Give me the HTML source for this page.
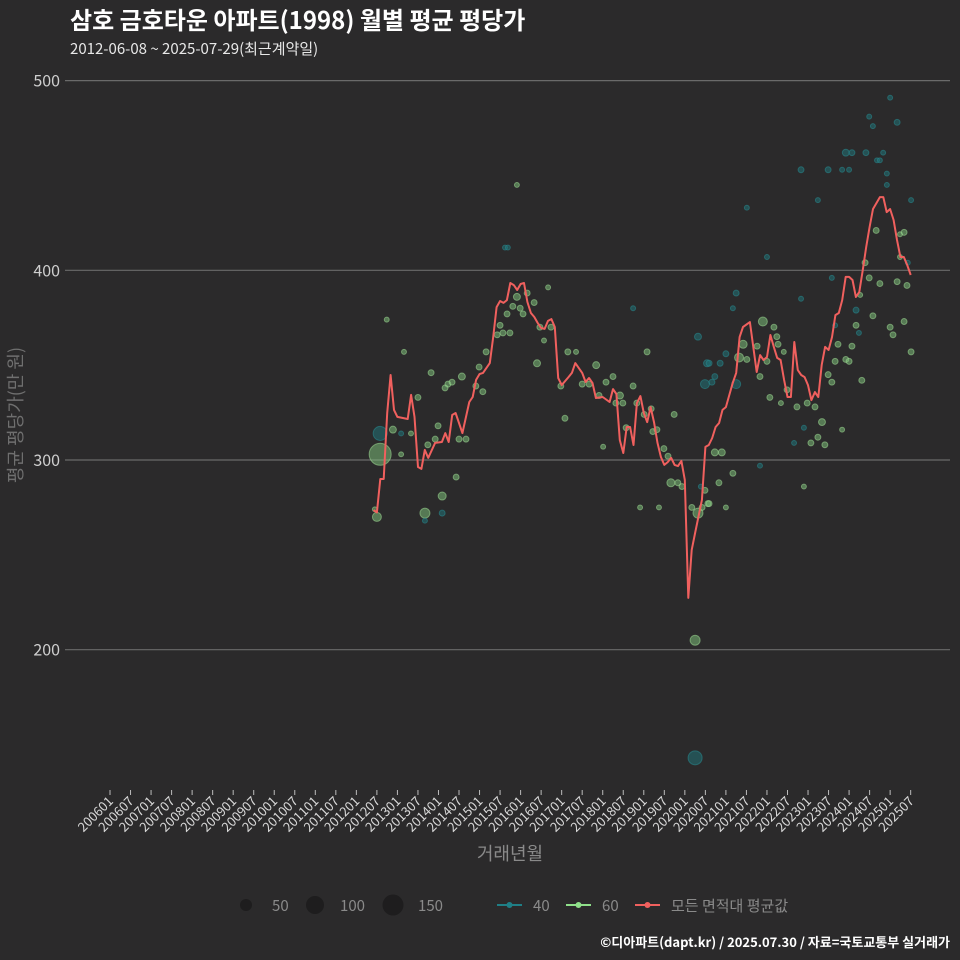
<!DOCTYPE html>
<html><head><meta charset="utf-8">
<style>
html,body{margin:0;padding:0;background:#2b2a2b;}
svg{display:block;}
text{font-family:"Noto Sans CJK KR","Liberation Sans",sans-serif;}
</style></head>
<body>
<svg id="chart" width="960" height="960" viewBox="0 0 960 960">
<rect x="0" y="0" width="960" height="960" fill="#2b2a2b"/>
<text x="70" y="29" font-size="24" font-weight="bold" fill="#ffffff">삼호 금호타운 아파트(1998) 월별 평균 평당가</text>
<text x="70" y="54" font-size="15" fill="#e8e8e8">2012-06-08 ~ 2025-07-29(최근계약일)</text>
<g id="grid"></g>
<g id="xaxis"></g>
<g id="points"></g>
<path id="avgline" fill="none" stroke="#f0605e" stroke-width="2" stroke-linejoin="round"/>
<text x="510" y="860" font-size="18" fill="#8a8a8a" text-anchor="middle">거래년월</text>
<text transform="translate(22,415) rotate(-90)" font-size="18" fill="#6f6f6f" text-anchor="middle">평균 평당가(만 원)</text>
<g>
  <circle cx="246" cy="905" r="6" fill="#1e1d1e"/>
  <text x="272" y="911" font-size="15" fill="#8a8a8a">50</text>
  <circle cx="315" cy="905" r="9" fill="#1e1d1e"/>
  <text x="340" y="911" font-size="15" fill="#8a8a8a">100</text>
  <circle cx="393" cy="905" r="10.5" fill="#1e1d1e"/>
  <text x="418" y="911" font-size="15" fill="#8a8a8a">150</text>
  <line x1="497" y1="905" x2="522" y2="905" stroke="#1f7f86" stroke-width="2"/>
  <circle cx="509.5" cy="905" r="3" fill="#1f7f86"/>
  <text x="533" y="911" font-size="15" fill="#8a8a8a">40</text>
  <line x1="566" y1="905" x2="591" y2="905" stroke="#8fe08a" stroke-width="2"/>
  <circle cx="578.5" cy="905" r="3" fill="#8fe08a"/>
  <text x="602" y="911" font-size="15" fill="#8a8a8a">60</text>
  <line x1="635" y1="905" x2="660" y2="905" stroke="#f0605e" stroke-width="2"/>
  <circle cx="647.5" cy="905" r="3" fill="#f0605e"/>
  <text x="671" y="911" font-size="15" fill="#8a8a8a">모든 면적대 평균값</text>
</g>
<text x="950" y="947" font-size="13" font-weight="bold" fill="#ffffff" text-anchor="end">©디아파트(dapt.kr) / 2025.07.30 / 자료=국토교통부 실거래가</text>
</svg>
<script>
const yTicks = [200, 300, 400, 500];
const xTickLabels = ["200601","200607","200701","200707","200801","200807","200901","200907","201001","201007","201101","201107","201201","201207","201301","201307","201401","201407","201501","201507","201601","201607","201701","201707","201801","201807","201901","201907","202001","202007","202101","202107","202201","202207","202301","202307","202401","202407","202501","202507"];
const lineDates = ["2012-06","2012-07","2012-08","2012-09","2012-10","2012-11","2012-12","2013-01","2013-04","2013-05","2013-06","2013-07","2013-08","2013-09","2013-10","2013-12","2014-02","2014-03","2014-04","2014-05","2014-06","2014-08","2014-10","2014-11","2014-12","2015-01","2015-02","2015-04","2015-05","2015-06","2015-07","2015-08","2015-09","2015-10","2015-11","2015-12","2016-01","2016-02","2016-03","2016-04","2016-05","2016-06","2016-07","2016-08","2016-09","2016-10","2016-11","2016-12","2017-01","2017-03","2017-04","2017-05","2017-07","2017-08","2017-09","2017-10","2017-11","2018-01","2018-03","2018-04","2018-05","2018-06","2018-07","2018-08","2018-09","2018-10","2018-11","2018-12","2019-01","2019-02","2019-03","2019-04","2019-05","2019-06","2019-07","2019-08","2019-09","2019-10","2019-11","2019-12","2020-01","2020-02","2020-03","2020-04","2020-06","2020-07","2020-08","2020-09","2020-10","2020-11","2020-12","2021-01","2021-03","2021-04","2021-05","2021-06","2021-08","2021-10","2021-11","2021-12","2022-01","2022-02","2022-03","2022-04","2022-05","2022-06","2022-07","2022-08","2022-09","2022-10","2022-11","2022-12","2023-01","2023-02","2023-03","2023-04","2023-05","2023-06","2023-07","2023-08","2023-09","2023-10","2023-11","2023-12","2024-01","2024-02","2024-03","2024-04","2024-05","2024-06","2024-07","2024-08","2024-09","2024-10","2024-11","2024-12","2025-01","2025-02","2025-03","2025-04","2025-05","2025-06","2025-07"];
const lineValues = [273.6,272.4,290,290,324.8,344.8,326.4,322.7,321.6,334.3,322.7,296.3,295.3,305.3,301.1,309,309.5,314.2,309.5,323.7,324.8,314.2,330.6,333.2,342.2,345.3,345.9,351.1,364.8,380.6,383.8,382.8,384.3,393.3,392.2,389.6,392.8,393.3,383.3,377.5,375.4,372.2,369.6,369.1,373.3,374.3,370.1,343.2,339.5,343.7,345.9,351.1,345.9,341.1,343.2,340.6,332.7,333.2,330.6,337.4,334.8,310.5,303.7,317.4,317.4,307.9,330,333.7,324.8,320,327.9,320,309,301.6,297.4,298.9,301.1,297.4,296.8,299.5,289.5,227.3,252.6,261.5,278.9,306.9,307.9,311.6,317.4,319.5,326.4,327.9,340.6,345.9,364.8,370.1,372.7,346.4,355.3,352.7,354.3,365.9,359.6,353.8,352.7,342.2,333.2,333.2,362.2,347.4,344.8,343.7,339.5,331.6,335.8,333.2,350.1,359.6,358,364.8,376.4,377.5,384.3,396.5,396.5,394.9,385.9,388.6,400.2,412.3,422.8,432.3,435.5,438.6,438.6,430.7,432.3,426.5,416,407,407,402.8,397.5];
const ptDates = [2012.74,2013.16,2013.82,2014.57,2014.23,2014.33,2014.16,2014.91,2015.08,2015.16,2014.99,2013.50,2015.43,2015.50,2015.57,2015.74,2015.67,2015.81,2015.91,2016.06,2015.99,2016.16,2016.33,2016.67,2016.47,2016.57,2016.40,2016.74,2017.15,2017.35,2017.84,2017.50,2017.67,2018.25,2018.08,2017.91,2018.42,2018.49,2018.32,2018.74,2018.83,2018.74,2019.08,2019.01,2019.18,2019.22,2019.32,2017.08,2016.98,2018.57,2012.58,2012.58,2012.89,2013.09,2013.33,2013.09,2013.99,2013.74,2013.92,2014.50,2014.67,2014.43,2014.09,2013.67,2013.67,2014.09,2012.50,2012.45,2018.91,2019.37,2020.32,2020.54,2020.49,2019.74,2018.01,2019.49,2019.59,2019.66,2019.83,2019.93,2020.17,2020.32,2020.42,2020.49,2020.56,2020.25,2020.25,2020.73,2020.90,2021.17,2020.83,2021.83,2022.90,2022.66,2023.07,2023.24,2023.41,2023.34,2023.83,2022.90,2021.00,2020.59,2020.39,2021.51,2023.24,2022.00,2021.25,2021.17,2022.83,2021.90,2022.17,2022.24,2021.42,2021.76,2021.32,2021.51,2022.00,2022.41,2022.27,2021.00,2020.86,2020.59,2020.73,2020.66,2021.25,2021.83,2022.07,2022.34,2022.49,2022.73,2022.98,2023.17,2023.49,2023.58,2023.66,2023.73,2023.92,2024.00,2024.07,2024.17,2024.24,2024.17,2024.31,2024.58,2024.27,2024.39,2024.49,2024.75,2025.17,2025.41,2025.34,2025.00,2025.07,2025.51,2024.66,2025.24,2025.24,2025.34,2025.43,2023.66,2023.58,2024.92,2025.51,2025.00,2024.49,2024.58,2025.17,2023.92,2024.07,2024.41,2024.83,2024.68,2024.75,2022.83,2023.49,2023.83,2024.00,2024.92,2015.62,2015.69,2015.91];
const ptValues = [374,357,346,344,340,341,338,339,336,357,349,333,366,371,367,367,377,381,386,377,380,388,383,391,370,363,351,370,357,357,350,340,340,344,341,334,334,330,330,339,330,380,357,324,327,315,316,322,339,317,303,314,316,314,314,303,318,308,311,311,311,291,281,272,268,272,270,274,275,275,365,351,340,324,307,306,302,288,288,286,275,272,275,284,277,205,143,304,304,293,288,297,317,309,309,312,308,320,316,286,275,277,286,433,437,407,388,380,385,373,370,365,361,360,354,353,352,357,361,356,351,351,344,341,340,344,333,330,337,328,330,328,345,341,352,361,353,352,360,371,367,379,342,376,387,404,396,393,394,392,373,370,366,357,421,407,419,420,404,371,396,445,437,491,481,476,478,462,462,462,462,458,458,453,453,453,453,451,412,412,445];
const ptCounts = [9,9,13,18,13,13,13,13,13,13,13,13,13,13,13,13,13,13,18,13,13,13,13,9,13,9,18,13,13,9,18,13,13,13,13,13,18,13,13,13,13,9,13,13,13,13,13,13,13,13,180,73,18,9,9,9,13,13,13,13,13,13,24,37,9,13,30,9,9,9,18,18,30,13,9,13,13,24,13,13,13,37,13,13,13,37,73,18,18,13,13,9,9,9,13,13,13,18,9,9,9,13,9,9,9,9,13,9,9,30,13,13,24,13,30,13,13,9,13,13,13,13,13,13,30,13,13,9,13,13,13,13,13,13,13,13,13,13,13,13,9,13,13,13,9,13,13,13,13,13,13,13,13,13,13,9,9,13,9,9,9,9,9,9,9,9,13,18,13,13,9,9,9,13,13,9,9,9,9,9,9,9,9];
const ptTypes = ["60","60","60","60","60","60","60","60","60","60","60","60","60","60","60","60","60","60","60","60","60","60","60","60","60","60","60","60","60","60","60","60","60","60","60","60","60","60","60","60","60","40","60","60","60","60","60","60","60","60","60","40","60","40","60","60","60","60","60","60","60","60","60","60","40","40","60","60","60","60","40","40","40","60","60","60","60","60","60","60","60","60","60","60","60","60","40","60","60","60","60","40","40","40","60","60","60","60","60","60","60","60","40","40","40","40","40","40","40","60","60","60","60","60","60","60","60","60","60","40","40","40","40","40","40","60","60","60","60","60","60","60","60","60","60","60","60","60","60","60","40","40","60","60","60","60","60","60","60","60","60","60","60","60","60","60","60","60","40","40","40","40","40","40","40","40","40","40","40","40","40","40","40","40","40","40","40","40","40","40","60","40","40","40"];

const NS = "http://www.w3.org/2000/svg";
function xScale(t){ return 110 + (t - 2006) * 41.06; }
function yScale(v){ return 460 - (v - 300) * 1.897; }
function dateToT(s){ const p = s.split("-"); return +p[0] + (+p[1] - 1) / 12; }
function mk(tag, attrs, parent){ const e = document.createElementNS(NS, tag); for (const k in attrs) e.setAttribute(k, attrs[k]); parent.appendChild(e); return e; }

const grid = document.getElementById("grid");
yTicks.forEach(v => {
  const y = yScale(v);
  const ln = mk("line", {x1: 65, x2: 950, y1: y, y2: y, stroke: "#6a6a6a", "stroke-width": 1.2}, grid);
  
  
  const tx = mk("text", {x: 60, y: y + 6, "font-size": 16, fill: "#cfcfcf", "text-anchor": "end"}, grid);
  tx.textContent = v;
  
  
});

const xa = document.getElementById("xaxis");
xTickLabels.forEach(lbl => {
  const t = +lbl.slice(0, 4) + (+lbl.slice(4) - 1) / 12;
  const x = xScale(t);
  const tk = mk("line", {x1: x, x2: x, y1: 790, y2: 795, stroke: "#bbbbbb", "stroke-width": 1}, xa);
  
  
  const tx = mk("text", {x: 0, y: 0, "font-size": 13, fill: "#d8d8d8", "text-anchor": "end", transform: "translate(" + (x + 4) + ",802) rotate(-45)"}, xa);
  tx.textContent = lbl;
  
  
});

const pts = document.getElementById("points");
ptDates.forEach((t, i) => {
  const isTeal = ptTypes[i] === "40";
  const r = 0.82 * Math.sqrt(ptCounts[i]);
  const c = mk("circle", {cx: xScale(t), cy: yScale(ptValues[i]), r: r,
    fill: isTeal ? "rgba(31,120,126,0.5)" : "rgba(130,200,125,0.5)",
    stroke: isTeal ? "rgba(40,140,146,0.55)" : "rgba(160,220,150,0.55)", "stroke-width": 1}, pts);
  
  
});

let d = "";
lineDates.forEach((s, i) => {
  d += (i ? "L" : "M") + xScale(dateToT(s)).toFixed(1) + "," + yScale(lineValues[i]).toFixed(1);
});
document.getElementById("avgline").setAttribute("d", d);
</script>
</body></html>
